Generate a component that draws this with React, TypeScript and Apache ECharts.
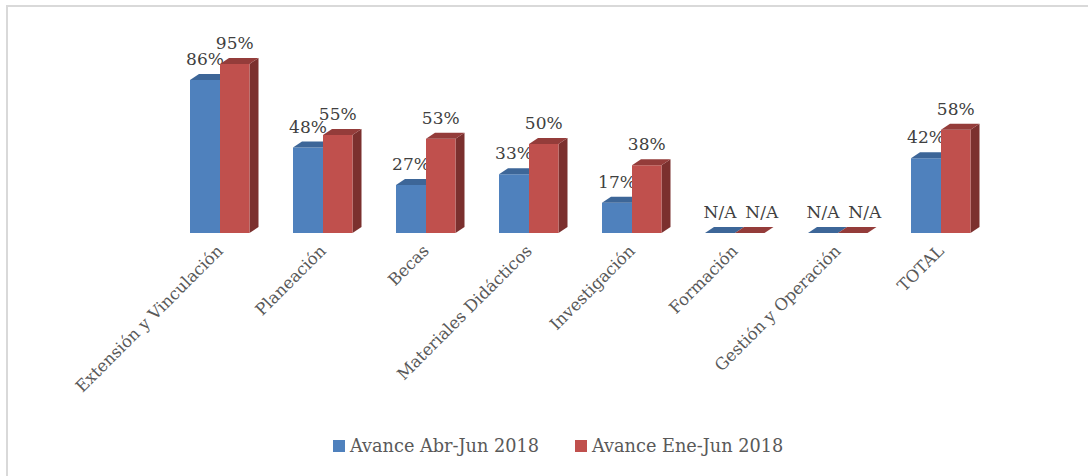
import React, { useEffect, useRef } from "react";
import * as echarts from "echarts";

const categories = [
  "Extensión y Vinculación",
  "Planeación",
  "Becas",
  "Materiales Didácticos",
  "Investigación",
  "Formación",
  "Gestión y Operación",
  "TOTAL",
];
const seriesNames = ["Avance Abr-Jun 2018", "Avance Ene-Jun 2018"];
const abrJun: (number | null)[] = [86, 48, 27, 33, 17, null, null, 42];
const eneJun: (number | null)[] = [95, 55, 53, 50, 38, null, null, 58];

const FONT = "DejaVu Serif";
const palettes = [
  { front: "#4f81bd", top: "#3d6698", side: "#385d8a" },
  { front: "#c0504d", top: "#943c3a", side: "#7b302e" },
];
const DX = 9;
const DY = 6;

function makeRender(side: number) {
  return (params: any, api: any) => {
    const i = api.value(0);
    const v = api.value(1);
    const na = api.value(2) === 1;
    const base = api.coord([i, 0]);
    const topPt = api.coord([i, v]);
    const cx = base[0];
    const by = base[1];
    const ty = topPt[1];
    const w = side === 0 ? 30 : 29.5;
    const x0 = side === 0 ? cx - w : cx;
    const x1 = x0 + w;
    const p = palettes[side];
    const children: any[] = [];
    if (by - ty > 0.5) {
      children.push({
        type: "polygon",
        shape: { points: [[x1, ty], [x1 + DX, ty - DY], [x1 + DX, by - DY], [x1, by]] },
        style: { fill: p.side },
      });
      children.push({
        type: "rect",
        shape: { x: x0, y: ty, width: w, height: by - ty },
        style: { fill: p.front },
      });
    }
    children.push({
      type: "polygon",
      shape: { points: [[x0, ty], [x1, ty], [x1 + DX, ty - DY], [x0 + DX, ty - DY]] },
      style: { fill: p.top },
    });
    const label = na ? "N/A" : Math.round(v) + "%";
    children.push({
      type: "text",
      x: (x0 + x1) / 2 + (na && side === 1 ? 12 : 0),
      y: ty - 21,
      style: {
        text: label,
        align: "center",
        verticalAlign: "middle",
        fontSize: 17,
        fontFamily: FONT,
        fill: "#404040",
      },
    });
    return { type: "group", children };
  };
}

function toData(arr: (number | null)[]) {
  return arr.map((v, i) => [i, v == null ? 0 : v, v == null ? 1 : 0]);
}

export default function App() {
  const ref = useRef<HTMLDivElement>(null);
  useEffect(() => {
    if (!ref.current) return;
    const chart = echarts.init(ref.current, undefined, { renderer: "svg" });
    chart.setOption({
      animation: false,
      backgroundColor: "#ffffff",
      grid: { left: 168.5, right: 95.5, top: 55, bottom: 243, containLabel: false },
      xAxis: {
        type: "category",
        data: categories,
        boundaryGap: true,
        axisLine: { show: false },
        axisTick: { show: false },
        splitLine: { show: false },
        axisLabel: {
          rotate: 45,
          interval: 0,
          margin: 15,
          fontSize: 16.5,
          fontFamily: FONT,
          color: "#595959",
        },
      },
      yAxis: { type: "value", min: 0, max: 100, show: false },
      legend: {
        data: seriesNames,
        left: 328,
        top: 432,
        itemWidth: 12,
        itemHeight: 12,
        itemGap: 36,
        icon: "rect",
        textStyle: { fontSize: 17.7, fontFamily: FONT, color: "#595959" },
      },
      graphic: [
        {
          type: "rect",
          shape: { x: 7, y: 6, width: 1200, height: 600 },
          style: { fill: "none", stroke: "#d9d9d9", lineWidth: 2 },
          silent: true,
        },
      ],
      series: [
        {
          type: "custom",
          name: seriesNames[0],
          itemStyle: { color: palettes[0].front },
          renderItem: makeRender(0),
          encode: { x: 0, y: 1 },
          clip: false,
          data: toData(abrJun),
        },
        {
          type: "custom",
          name: seriesNames[1],
          itemStyle: { color: palettes[1].front },
          renderItem: makeRender(1),
          encode: { x: 0, y: 1 },
          clip: false,
          data: toData(eneJun),
        },
      ],
    });
    return () => chart.dispose();
  }, []);
  return (
    <div
      ref={ref}
      style={{ position: "fixed", left: 0, top: 0, width: 1088, height: 476 }}
    />
  );
}
